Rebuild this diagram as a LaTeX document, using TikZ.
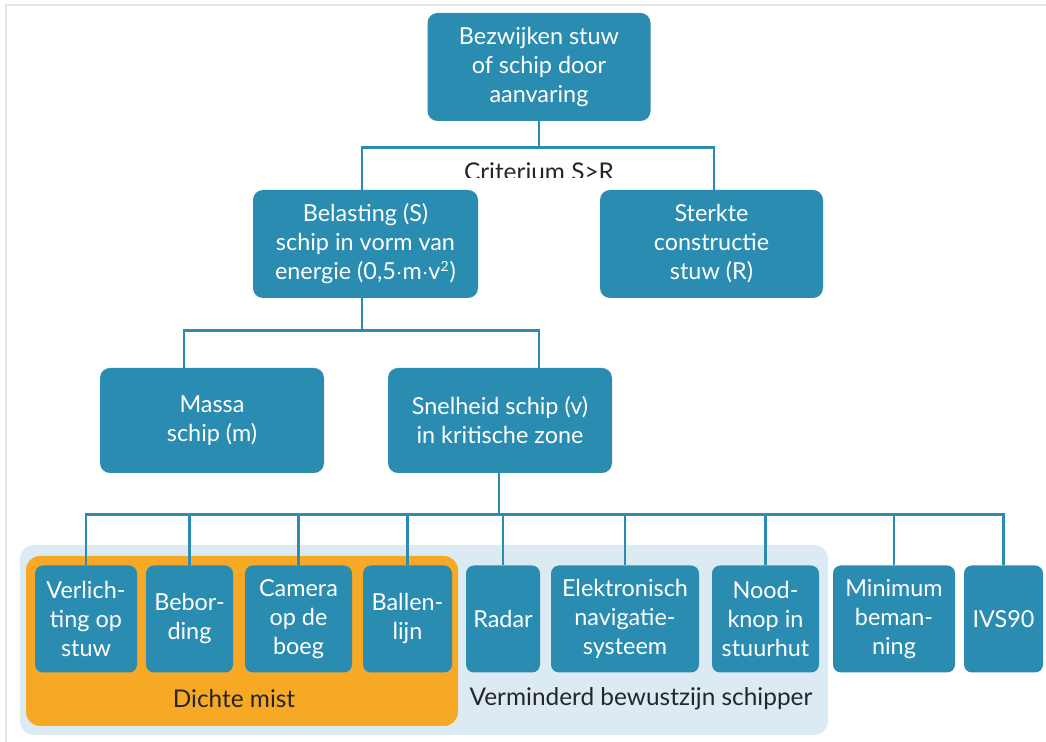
\documentclass[tikz,border=0pt]{standalone}
\usepackage{fontspec}
\setmainfont{Lato}
\usepackage{tikz}
\definecolor{stuwblue}{RGB}{42,140,176}
\definecolor{mistorange}{RGB}{247,168,36}
\definecolor{schipperblue}{RGB}{220,235,243}
\tikzset{
  box/.style={rectangle, rounded corners=5pt, fill=stuwblue, text=white, align=center, inner sep=0pt, font=\fontsize{11.7}{14.5}\selectfont},
  smallbox/.style={box, rounded corners=4pt, minimum height=53.5pt},
  grouplabel/.style={text=black!85, font=\fontsize{12.2}{14}\selectfont},
  link/.style={draw=stuwblue, line width=1.4pt}
}
\begin{document}
\begin{tikzpicture}[x=0.5pt, y=-0.5pt]
\useasboundingbox (0,0) rectangle (1046,742);
\fill[white] (0,0) rectangle (1046,742);
\draw[black!10, line width=1pt] (6,742) -- (6,5) -- (1046,5);

% groups
\fill[schipperblue, rounded corners=7pt] (20,545) rectangle (828,735);
\fill[mistorange, rounded corners=7pt] (26,556) rectangle (458,726);
\node (mist) at (234,699) [grouplabel] {Dichte mist};
\node (schipper) at (641,699) [grouplabel] {Verminderd bewustzijn schipper};

% top levels
\node (top) at (539,67) [box, minimum width=111.5pt, minimum height=54pt] {Bezwijken stuw\\of schip door\\aanvaring};
\node (bel) at (365.5,244) [box, minimum width=112.5pt, minimum height=54pt] {Belasting (S)\\schip in vorm van\\energie (0,5$\cdot$m$\cdot$v\textsuperscript{\scriptsize 2})};
\node (sterk) at (711.5,244) [box, minimum width=111.5pt, minimum height=54pt] {Sterkte\\constructie\\stuw (R)};
\begin{scope}
  \clip (300,150) rectangle (780,178);
  \node (crit) at (539,172) [grouplabel] {Criterium S>R};
\end{scope}

\node (massa) at (212,420.5) [box, minimum width=112pt, minimum height=52.5pt] {Massa\\schip (m)};
\node (snel) at (500,420.5) [box, minimum width=112pt, minimum height=52.5pt] {Snelheid schip (v)\\in kritische zone};

% bottom row
\node (verl) at (86,619) [smallbox, minimum width=51pt] {Verlich-\\ting op\\stuw};
\node (bebo) at (189.5,619) [smallbox, minimum width=43.5pt] {Bebor-\\ding};
\node (came) at (298.5,619) [smallbox, minimum width=53.5pt] {Camera\\op de\\boeg};
\node (ball) at (407.5,619) [smallbox, minimum width=44.5pt] {Ballen-\\lijn};
\node (radar) at (503,619) [smallbox, minimum width=37pt] {Radar};
\node (elek) at (625,619) [smallbox, minimum width=74pt] {Elektronisch\\navigatie-\\systeem};
\node (nood) at (765.5,619) [smallbox, minimum width=53.5pt] {Nood-\\knop in\\stuurhut};
\node (mini) at (894,619) [smallbox, minimum width=61pt] {Minimum\\beman-\\ning};
\node (ivs) at (1003.5,619) [smallbox, minimum width=39.5pt] {IVS90};

% connectors
\draw[link] (top.south) -- ++(0,26) -| ([xshift=-1.75pt]bel.north);
\draw[link] (top.south) -- ++(0,26) -| ([xshift=1.25pt]sterk.north);
\draw[link] ([xshift=-1.75pt]bel.south) -- ++(0,32) -| ([xshift=-14pt]massa.north);
\draw[link] ([xshift=-1.75pt]bel.south) -- ++(0,32) -| ([xshift=19.5pt]snel.north);
\foreach \n in {verl,bebo,came,ball,radar,elek,nood,mini,ivs}
  \draw[link] ([xshift=-0.5pt]snel.south) -- ++(0,41) -| (\n.north);
\end{tikzpicture}
\end{document}
